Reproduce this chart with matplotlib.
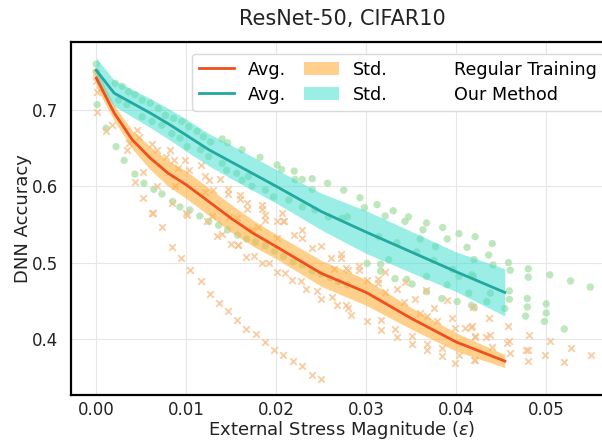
import matplotlib
matplotlib.use('Agg')

import numpy as np
import matplotlib.pyplot as plt
from matplotlib.lines import Line2D
from matplotlib.patches import Patch

# Средние кривые и разброс по прогонам
eps_grid = [0.0, 0.002, 0.004, 0.006, 0.008, 0.010, 0.0125, 0.015, 0.0175,
            0.020, 0.025, 0.030, 0.035, 0.040, 0.0454]
reg_mean = [0.742, 0.696, 0.661, 0.637, 0.617, 0.602, 0.580, 0.558, 0.538,
            0.521, 0.486, 0.461, 0.427, 0.396, 0.371]
reg_std = [0.012, 0.010, 0.012, 0.015, 0.017, 0.018, 0.018, 0.018, 0.017,
           0.016, 0.017, 0.017, 0.014, 0.012, 0.0085]
our_mean = [0.752, 0.722, 0.709, 0.696, 0.682, 0.667, 0.648, 0.632, 0.616,
            0.600, 0.567, 0.540, 0.514, 0.488, 0.461]
our_std = [0.016, 0.017, 0.018, 0.019, 0.020, 0.021, 0.021, 0.022, 0.022,
           0.022, 0.024, 0.028, 0.027, 0.026, 0.031]

# Отдельные прогоны: наш метод (кружки)
our_pts_eps = [
    0.0000, 0.0000, 0.0001, 0.0011, 0.0022, 0.0031, 0.0043, 0.0053, 0.0064, 0.0073,
    0.0085, 0.0093, 0.0104, 0.0115, 0.0125, 0.0136, 0.0146, 0.0157, 0.0167, 0.0177,
    0.0188, 0.0198, 0.0208, 0.0219, 0.0229, 0.0240, 0.0250, 0.0260, 0.0269, 0.0279,
    0.0301, 0.0316, 0.0325, 0.0332, 0.0345, 0.0351, 0.0367, 0.0375, 0.0396, 0.0390,
    0.0417, 0.0367, 0.0384, 0.0401, 0.0417, 0.0316,
    0.0021, 0.0029, 0.0036, 0.0043, 0.0051, 0.0060, 0.0069, 0.0077, 0.0086, 0.0095,
    0.0103, 0.0112, 0.0119, 0.0127,
    0.0025, 0.0034, 0.0051, 0.0062, 0.0073, 0.0084, 0.0093, 0.0101, 0.0116, 0.0125,
    0.0140, 0.0146, 0.0162, 0.0182, 0.0201, 0.0206, 0.0220, 0.0221, 0.0229, 0.0240,
    0.0240, 0.0257, 0.0275,
    0.0140, 0.0145, 0.0156, 0.0162, 0.0169, 0.0173, 0.0188, 0.0197, 0.0214, 0.0229,
    0.0243, 0.0258, 0.0273,
    0.0293, 0.0312, 0.0298, 0.0330, 0.0321, 0.0347, 0.0343, 0.0367, 0.0385, 0.0363,
    0.0403, 0.0421, 0.0390, 0.0412, 0.0377, 0.0360, 0.0314, 0.0279, 0.0334, 0.0356,
    0.0403, 0.0419, 0.0414,
    0.0440, 0.0436, 0.0420, 0.0458, 0.0441, 0.0460, 0.0480, 0.0480, 0.0504, 0.0527,
    0.0549, 0.0459, 0.0459, 0.0479, 0.0479, 0.0500, 0.0500, 0.0477, 0.0498, 0.0520,
    0.0454, 0.0420, 0.0434, 0.0438,
]
our_pts_acc = [
    0.760, 0.750, 0.707, 0.676, 0.652, 0.634, 0.616, 0.604, 0.596, 0.590,
    0.580, 0.573, 0.569, 0.561, 0.554, 0.549, 0.543, 0.536, 0.531, 0.527,
    0.522, 0.515, 0.508, 0.501, 0.497, 0.489, 0.485, 0.480, 0.475, 0.471,
    0.499, 0.498, 0.504, 0.479, 0.478, 0.472, 0.482, 0.503, 0.491, 0.471,
    0.484, 0.462, 0.453, 0.449, 0.444, 0.489,
    0.735, 0.731, 0.724, 0.720, 0.713, 0.709, 0.702, 0.693, 0.689, 0.685,
    0.678, 0.672, 0.665, 0.658,
    0.713, 0.707, 0.691, 0.685, 0.680, 0.669, 0.663, 0.652, 0.648, 0.639,
    0.662, 0.657, 0.648, 0.638, 0.628, 0.622, 0.620, 0.609, 0.609, 0.610,
    0.596, 0.604, 0.595,
    0.630, 0.621, 0.617, 0.608, 0.613, 0.600, 0.595, 0.586, 0.582, 0.573,
    0.569, 0.560, 0.558,
    0.585, 0.576, 0.572, 0.568, 0.561, 0.560, 0.554, 0.552, 0.546, 0.543,
    0.538, 0.534, 0.531, 0.520, 0.521, 0.531, 0.534, 0.560, 0.526, 0.514,
    0.482, 0.482, 0.460,
    0.525, 0.510, 0.504, 0.500, 0.497, 0.490, 0.492, 0.481, 0.484, 0.476,
    0.468, 0.463, 0.452, 0.453, 0.442, 0.446, 0.434, 0.430, 0.423, 0.413,
    0.440, 0.441, 0.449, 0.460,
]

# Отдельные прогоны: обычное обучение (крестики)
reg_pts_eps = [
    0.0000, 0.0000, 0.0001, 0.0001, 0.0011, 0.0017, 0.0034, 0.0036, 0.0045, 0.0043,
    0.0052, 0.0052, 0.0062, 0.0067, 0.0088, 0.0101, 0.0047, 0.0062, 0.0067,
    0.0077, 0.0082, 0.0086, 0.0091, 0.0099, 0.0103, 0.0116, 0.0121, 0.0125, 0.0121,
    0.0130, 0.0123,
    0.0063, 0.0073, 0.0084, 0.0094, 0.0104, 0.0116, 0.0126, 0.0136, 0.0146, 0.0156,
    0.0166, 0.0177, 0.0188, 0.0198, 0.0208, 0.0219, 0.0229, 0.0240, 0.0250,
    0.0084, 0.0100, 0.0129, 0.0158,
    0.0134, 0.0140, 0.0150, 0.0157, 0.0166, 0.0175, 0.0184, 0.0192, 0.0201, 0.0210,
    0.0217, 0.0228, 0.0233, 0.0245, 0.0250, 0.0262, 0.0267, 0.0277,
    0.0147, 0.0156, 0.0173, 0.0180, 0.0201, 0.0208, 0.0201, 0.0220, 0.0229, 0.0229,
    0.0240, 0.0250, 0.0261, 0.0272, 0.0272, 0.0277, 0.0264,
    0.0138, 0.0146, 0.0146, 0.0160, 0.0160, 0.0167, 0.0167, 0.0184, 0.0184, 0.0188,
    0.0188, 0.0206, 0.0209,
    0.0280, 0.0292, 0.0292, 0.0301, 0.0313, 0.0313, 0.0321, 0.0321, 0.0334, 0.0343,
    0.0280, 0.0283, 0.0301, 0.0316, 0.0316, 0.0332, 0.0334, 0.0342, 0.0351, 0.0351,
    0.0354, 0.0360, 0.0367, 0.0367, 0.0367, 0.0375, 0.0379, 0.0384, 0.0384, 0.0390,
    0.0395, 0.0399, 0.0403, 0.0399, 0.0410, 0.0416, 0.0419, 0.0421, 0.0421, 0.0366,
    0.0436, 0.0458, 0.0417, 0.0421, 0.0433, 0.0438, 0.0440, 0.0456, 0.0459, 0.0460,
    0.0481, 0.0477, 0.0480, 0.0480, 0.0504, 0.0499, 0.0527, 0.0520, 0.0550, 0.0420,
]
reg_pts_acc = [
    0.748, 0.738, 0.724, 0.698, 0.672, 0.680, 0.648, 0.657, 0.674, 0.606,
    0.619, 0.585, 0.565, 0.600, 0.600, 0.562, 0.665, 0.656, 0.648,
    0.639, 0.648, 0.634, 0.624, 0.634, 0.621, 0.628, 0.613, 0.608, 0.593,
    0.595, 0.554,
    0.565, 0.547, 0.521, 0.506, 0.490, 0.476, 0.459, 0.447, 0.437, 0.425,
    0.413, 0.406, 0.396, 0.385, 0.379, 0.371, 0.364, 0.353, 0.347,
    0.578, 0.565, 0.561, 0.523,
    0.535, 0.537, 0.524, 0.523, 0.508, 0.509, 0.499, 0.500, 0.488, 0.486,
    0.477, 0.476, 0.465, 0.463, 0.453, 0.455, 0.444, 0.444,
    0.560, 0.558, 0.543, 0.547, 0.554, 0.554, 0.532, 0.536, 0.543, 0.532,
    0.519, 0.522, 0.506, 0.511, 0.506, 0.493, 0.492,
    0.610, 0.597, 0.590, 0.589, 0.583, 0.578, 0.570, 0.576, 0.570, 0.563,
    0.556, 0.565, 0.554,
    0.490, 0.496, 0.490, 0.477, 0.479, 0.473, 0.488, 0.461, 0.465, 0.475,
    0.441, 0.431, 0.423, 0.425, 0.412, 0.413, 0.403, 0.449, 0.404, 0.394,
    0.452, 0.434, 0.430, 0.394, 0.385, 0.440, 0.423, 0.388, 0.378, 0.451,
    0.428, 0.414, 0.379, 0.369, 0.414, 0.416, 0.442, 0.404, 0.372, 0.464,
    0.428, 0.417, 0.417, 0.403, 0.403, 0.405, 0.390, 0.395, 0.398, 0.381,
    0.405, 0.386, 0.386, 0.371, 0.398, 0.379, 0.388, 0.370, 0.379, 0.372,
]

eps = np.array(eps_grid)
reg_mean = np.array(reg_mean)
reg_std = np.array(reg_std)
our_mean = np.array(our_mean)
our_std = np.array(our_std)

fig = plt.figure(figsize=(6.02, 4.42), dpi=100)
ax = fig.add_axes([0.118, 0.1063, 0.900, 0.7986])
ax.set_facecolor('white')

# Точки отдельных прогонов
ax.scatter(our_pts_eps, our_pts_acc, s=28, marker='o', color='#a8dfa8',
           edgecolors='none', alpha=0.75, zorder=1)
ax.scatter(reg_pts_eps, reg_pts_acc, s=22, marker='x', color='#f7c08a',
           linewidths=1.3, alpha=0.8, zorder=1)

# Разброс
ax.fill_between(eps, reg_mean - reg_std, reg_mean + reg_std,
                color='#ffb23f', alpha=0.6, linewidth=0, zorder=2)
ax.fill_between(eps, our_mean - our_std, our_mean + our_std,
                color='#48e0d2', alpha=0.55, linewidth=0, zorder=2)

# Средние
ax.plot(eps, reg_mean, color='#f0501e', linewidth=2, zorder=3)
ax.plot(eps, our_mean, color='#22a8a0', linewidth=2, zorder=3)

ax.set_xlim(-0.0028, 0.0574)
ax.set_ylim(0.3266, 0.789)
ax.set_xticks([0.0, 0.01, 0.02, 0.03, 0.04, 0.05])
ax.set_xticklabels(['0.00', '0.01', '0.02', '0.03', '0.04', '0.05'])
ax.set_yticks([0.4, 0.5, 0.6, 0.7])
ax.set_yticklabels(['0.4', '0.5', '0.6', '0.7'])
ax.tick_params(axis='both', length=0, labelsize=12, colors='#222222')
ax.tick_params(axis='x', pad=4)
ax.tick_params(axis='y', pad=9)

ax.grid(True, color='#e6e6e6', linewidth=0.8)
ax.set_axisbelow(True)
for side in ['left', 'bottom', 'top']:
    ax.spines[side].set_color('black')
    ax.spines[side].set_linewidth(1.6)
ax.spines['right'].set_visible(False)

ax.set_xlabel(r'External Stress Magnitude ($\epsilon$)', fontsize=13, color='#222222', labelpad=0)
ax.set_ylabel('DNN Accuracy', fontsize=13, color='#222222', labelpad=0)
ax.set_title('ResNet-50, CIFAR10', fontsize=15, color='#222222', pad=12)

# Легенда: три колонки, последняя только с подписями
blank = Line2D([], [], linestyle='none')
handles = [
    Line2D([], [], color='#f0501e', linewidth=2),
    Line2D([], [], color='#22a8a0', linewidth=2),
    Patch(facecolor='#ffb23f', alpha=0.6, edgecolor='none'),
    Patch(facecolor='#48e0d2', alpha=0.55, edgecolor='none'),
    blank, blank,
]
labels = ['Avg.', 'Avg.', 'Std.', 'Std.', 'Regular Training', 'Our Method']
ax.legend(handles, labels, ncol=3, loc='upper right', fontsize=12.6,
          handlelength=2.0, handletextpad=0.8, columnspacing=1.0,
          labelspacing=0.4, framealpha=1.0, edgecolor='#d9d9d9', fancybox=True,
          bbox_to_anchor=(1.0, 0.992))

fig.savefig('out.png', dpi=100)
